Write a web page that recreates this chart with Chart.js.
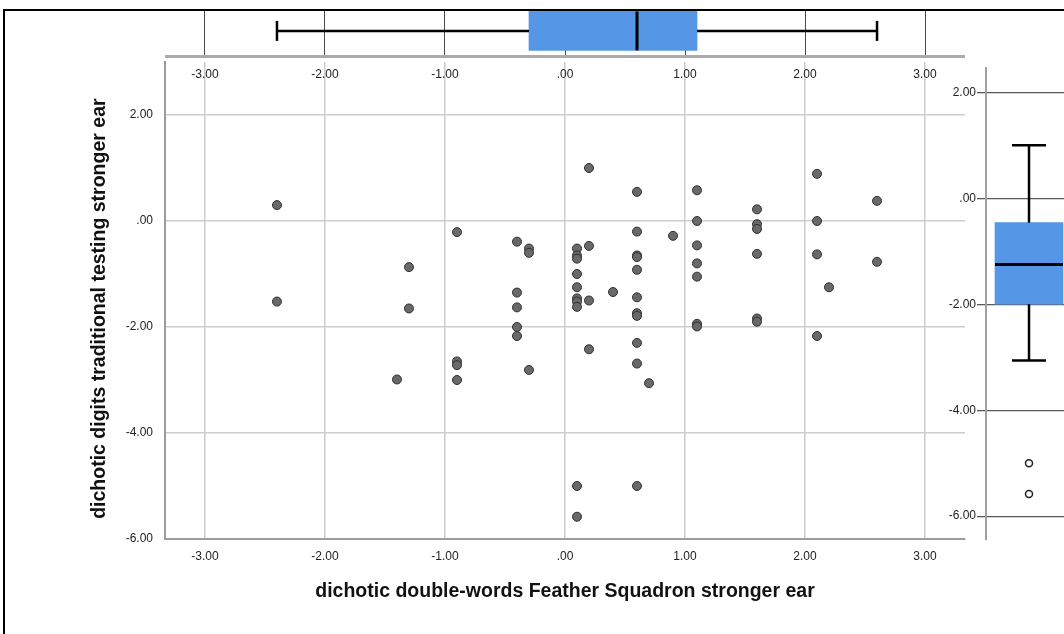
<!DOCTYPE html>
<html>
<head>
<meta charset="utf-8">
<script src="https://cdn.jsdelivr.net/npm/chart.js@4.4.1/dist/chart.umd.min.js"></script>
<style>
  html, body { margin: 0; padding: 0; background: #fff; width: 1064px; height: 634px; overflow: hidden; }
  #wrap { position: relative; width: 1064px; height: 634px; }
  canvas { position: absolute; }
  #main { left: 0; top: 0; }
  #topBox { left: 165px; top: 10px; }
  #rightBox { left: 930px; top: 0; }
  .frame { position: absolute; background: #000; }
</style>
</head>
<body>
<div id="wrap">
  <canvas id="main" width="1064" height="634"></canvas>
  <canvas id="topBox" width="800" height="50"></canvas>
  <canvas id="rightBox" width="142" height="634"></canvas>
  <div class="frame" style="left:3px;top:9px;width:1061px;height:2px"></div>
  <div class="frame" style="left:3px;top:9px;width:2px;height:625px"></div>
</div>
<script>
// scatter points (x = double-words, y = digits)
const xValues = [
  -2.4, -2.4,
  -1.4,
  -1.3, -1.3,
  -0.9, -0.9, -0.9, -0.9,
  -0.4, -0.4, -0.4, -0.4, -0.4,
  -0.3, -0.3, -0.3,
  0.1, 0.1, 0.1, 0.1, 0.1, 0.1, 0.1, 0.1, 0.1, 0.1,
  0.2, 0.2, 0.2, 0.2,
  0.4,
  0.6, 0.6, 0.6, 0.6, 0.6, 0.6, 0.6, 0.6, 0.6, 0.6, 0.6,
  0.7,
  0.9,
  1.1, 1.1, 1.1, 1.1, 1.1, 1.1, 1.1,
  1.6, 1.6, 1.6, 1.6, 1.6, 1.6,
  2.1, 2.1, 2.1, 2.1,
  2.2,
  2.6, 2.6
];
const yValues = [
  0.30, -1.52,
  -2.99,
  -0.87, -1.65,
  -0.21, -2.65, -2.72, -3.00,
  -0.39, -1.35, -1.63, -2.00, -2.17,
  -0.52, -0.60, -2.81,
  -0.52, -0.65, -0.71, -1.00, -1.25, -1.46, -1.52, -1.62, -5.00, -5.58,
  1.00, -0.47, -1.50, -2.42,
  -1.34,
  0.55, -0.20, -0.65, -0.68, -0.92, -1.44, -1.74, -1.79, -2.30, -2.69, -5.00,
  -3.06,
  -0.28,
  0.58, 0.00, -0.46, -0.80, -1.05, -1.94, -1.99,
  0.22, -0.06, -0.15, -0.62, -1.84, -1.90,
  0.89, 0.00, -0.63, -2.17,
  -1.25,
  0.38, -0.77
];

// box plot summaries: [low whisker, Q1, median, Q3, high whisker]
const xBoxStats = [-2.4, -0.3, 0.6, 1.1, 2.6];
const yBoxStats = [-3.06, -2.0, -1.25, -0.46, 1.0];
const yOutliers = [-5.0, -5.58];

const xTickValues = [-3, -2, -1, 0, 1, 2, 3];
const yTickValues = [-6, -4, -2, 0, 2];

const xTitle = 'dichotic double-words Feather Squadron stronger ear';
const yTitle = 'dichotic digits traditional testing stronger ear';

Chart.defaults.font.family = '"Liberation Sans", Arial, sans-serif';
Chart.defaults.color = '#222';

// SPSS style numbers: .00, 1.00, -2.00
const fmt = v => (v < 0 ? '-' : '') + Math.abs(v).toFixed(2).replace(/^0/, '');

const noUi = { legend: { display: false }, tooltip: { enabled: false } };

// labels for the top edge of the scatter, drawn inside the plot
const topTickLabels = {
  id: 'topTickLabels',
  afterDraw(chart) {
    const sx = chart.scales.x;
    const ctx = chart.ctx;
    ctx.save();
    ctx.font = '12px "Liberation Sans", Arial, sans-serif';
    ctx.fillStyle = '#222';
    ctx.textAlign = 'center';
    ctx.textBaseline = 'middle';
    sx.ticks.forEach(t => {
      ctx.fillText(fmt(t.value), sx.getPixelForValue(t.value), chart.chartArea.top + 13);
    });
    ctx.restore();
  }
};

const mainChart = new Chart(document.getElementById('main'), {
  type: 'scatter',
  data: {
    datasets: [{
      data: xValues.map((x, i) => ({ x: x, y: yValues[i] })),
      backgroundColor: '#696969',
      borderColor: '#2f2f2f',
      borderWidth: 1,
      pointRadius: 4.5,
      pointHoverRadius: 4.5
    }]
  },
  options: {
    responsive: false,
    animation: false,
    events: [],
    layout: { padding: { left: 84, top: 62, right: 99, bottom: 27 } },
    plugins: noUi,
    scales: {
      x: {
        type: 'linear',
        min: -3.333,
        max: 3.333,
        afterBuildTicks: s => { s.ticks = xTickValues.map(v => ({ value: v })); },
        afterFit: s => { s.height = 68; },
        grid: { color: '#cdcdcd', lineWidth: 1.5, drawTicks: false },
        border: { color: '#9c9c9c', width: 2 },
        ticks: { padding: 10, font: { size: 12 }, maxRotation: 0, autoSkip: false, callback: v => fmt(v) },
        title: { display: true, text: xTitle, color: '#111', font: { size: 19.5, weight: 'bold' }, padding: { top: 4, bottom: 4 } }
      },
      y: {
        type: 'linear',
        min: -6,
        max: 3,
        afterBuildTicks: s => { s.ticks = yTickValues.map(v => ({ value: v })); },
        afterFit: s => { s.width = 81; },
        grid: { color: '#cdcdcd', lineWidth: 1.5, drawTicks: false },
        border: { color: '#9c9c9c', width: 2 },
        ticks: { padding: 12, font: { size: 12 }, callback: v => fmt(v) },
        // trailing spaces nudge the rotated title a few px down, like the original
        title: { display: true, text: yTitle + '   ', color: '#111', font: { size: 19.5, weight: 'bold' }, padding: { top: 4, bottom: 4 } }
      }
    }
  },
  plugins: [topTickLabels]
});

// horizontal box plot above the scatter
const topChart = new Chart(document.getElementById('topBox'), {
  type: 'scatter',
  data: {
    datasets: [
      { type: 'scatter', data: [{ x: xBoxStats[2], y: 0.5 }], pointStyle: 'line', pointRotation: 90, pointRadius: 19.5, pointBorderWidth: 3, pointBorderColor: '#000' },
      { type: 'scatter', data: [{ x: xBoxStats[0], y: 0.5 }, { x: xBoxStats[4], y: 0.5 }], pointStyle: 'line', pointRotation: 90, pointRadius: 10, pointBorderWidth: 2.5, pointBorderColor: '#000' },
      { type: 'line', data: [{ x: xBoxStats[0], y: 0.5 }, { x: xBoxStats[1], y: 0.5 }], borderColor: '#000', borderWidth: 2.5, pointRadius: 0 },
      { type: 'line', data: [{ x: xBoxStats[3], y: 0.5 }, { x: xBoxStats[4], y: 0.5 }], borderColor: '#000', borderWidth: 2.5, pointRadius: 0 },
      { type: 'bar', indexAxis: 'y', data: [{ y: 0.5, x: [xBoxStats[1], xBoxStats[3]] }], backgroundColor: '#5596e6', borderWidth: 0, barThickness: 39 }
    ]
  },
  options: {
    responsive: false,
    animation: false,
    events: [],
    layout: { padding: { left: 0, right: 0, top: 0, bottom: 4 }, autoPadding: false },
    plugins: noUi,
    scales: {
      x: {
        type: 'linear',
        min: -3.333,
        max: 3.333,
        offset: false,
        afterBuildTicks: s => { s.ticks = xTickValues.map(v => ({ value: v })); },
        afterFit: s => { s.height = 0; },
        grid: { color: '#4a4a4a', lineWidth: 1, drawTicks: false, offset: false },
        border: { color: '#ababab', width: 3 },
        ticks: { display: false }
      },
      y: { type: 'linear', min: -0.1, max: 1, display: false, offset: false }
    }
  }
});

// vertical box plot right of the scatter
const rightChart = new Chart(document.getElementById('rightBox'), {
  type: 'scatter',
  data: {
    datasets: [
      { type: 'scatter', data: [{ x: 0.5, y: yBoxStats[2] }], pointStyle: 'line', pointRadius: 34, pointBorderWidth: 3, pointBorderColor: '#000' },
      { type: 'scatter', data: [{ x: 0.5, y: yBoxStats[0] }, { x: 0.5, y: yBoxStats[4] }], pointStyle: 'line', pointRadius: 17, pointBorderWidth: 2.5, pointBorderColor: '#000' },
      { type: 'scatter', data: yOutliers.map(v => ({ x: 0.5, y: v })), pointRadius: 3.5, pointBackgroundColor: '#fff', pointBorderColor: '#222', pointBorderWidth: 1.5 },
      { type: 'line', data: [{ x: 0.5, y: yBoxStats[0] }, { x: 0.5, y: yBoxStats[1] }], borderColor: '#000', borderWidth: 2.5, pointRadius: 0 },
      { type: 'line', data: [{ x: 0.5, y: yBoxStats[3] }, { x: 0.5, y: yBoxStats[4] }], borderColor: '#000', borderWidth: 2.5, pointRadius: 0 },
      { type: 'bar', data: [{ x: 0.5, y: [yBoxStats[1], yBoxStats[3]] }], backgroundColor: '#5596e6', borderWidth: 0, barThickness: 68 }
    ]
  },
  options: {
    responsive: false,
    animation: false,
    events: [],
    layout: { padding: { left: 0, right: 0, top: 68, bottom: 94 }, autoPadding: false },
    plugins: noUi,
    scales: {
      x: { type: 'linear', min: 0, max: 1, display: false, offset: false },
      y: {
        type: 'linear',
        min: -6.45,
        max: 2.46,
        offset: false,
        afterBuildTicks: s => { s.ticks = yTickValues.map(v => ({ value: v })); },
        afterFit: s => { s.width = 56; },
        grid: { color: '#5a5a5a', lineWidth: 1.3, drawTicks: true, tickLength: 9, tickColor: '#5a5a5a', offset: false },
        border: { color: '#a0a0a0', width: 2 },
        ticks: { padding: 1, font: { size: 12 }, callback: v => fmt(v) }
      }
    }
  }
});
</script>
</body>
</html>
